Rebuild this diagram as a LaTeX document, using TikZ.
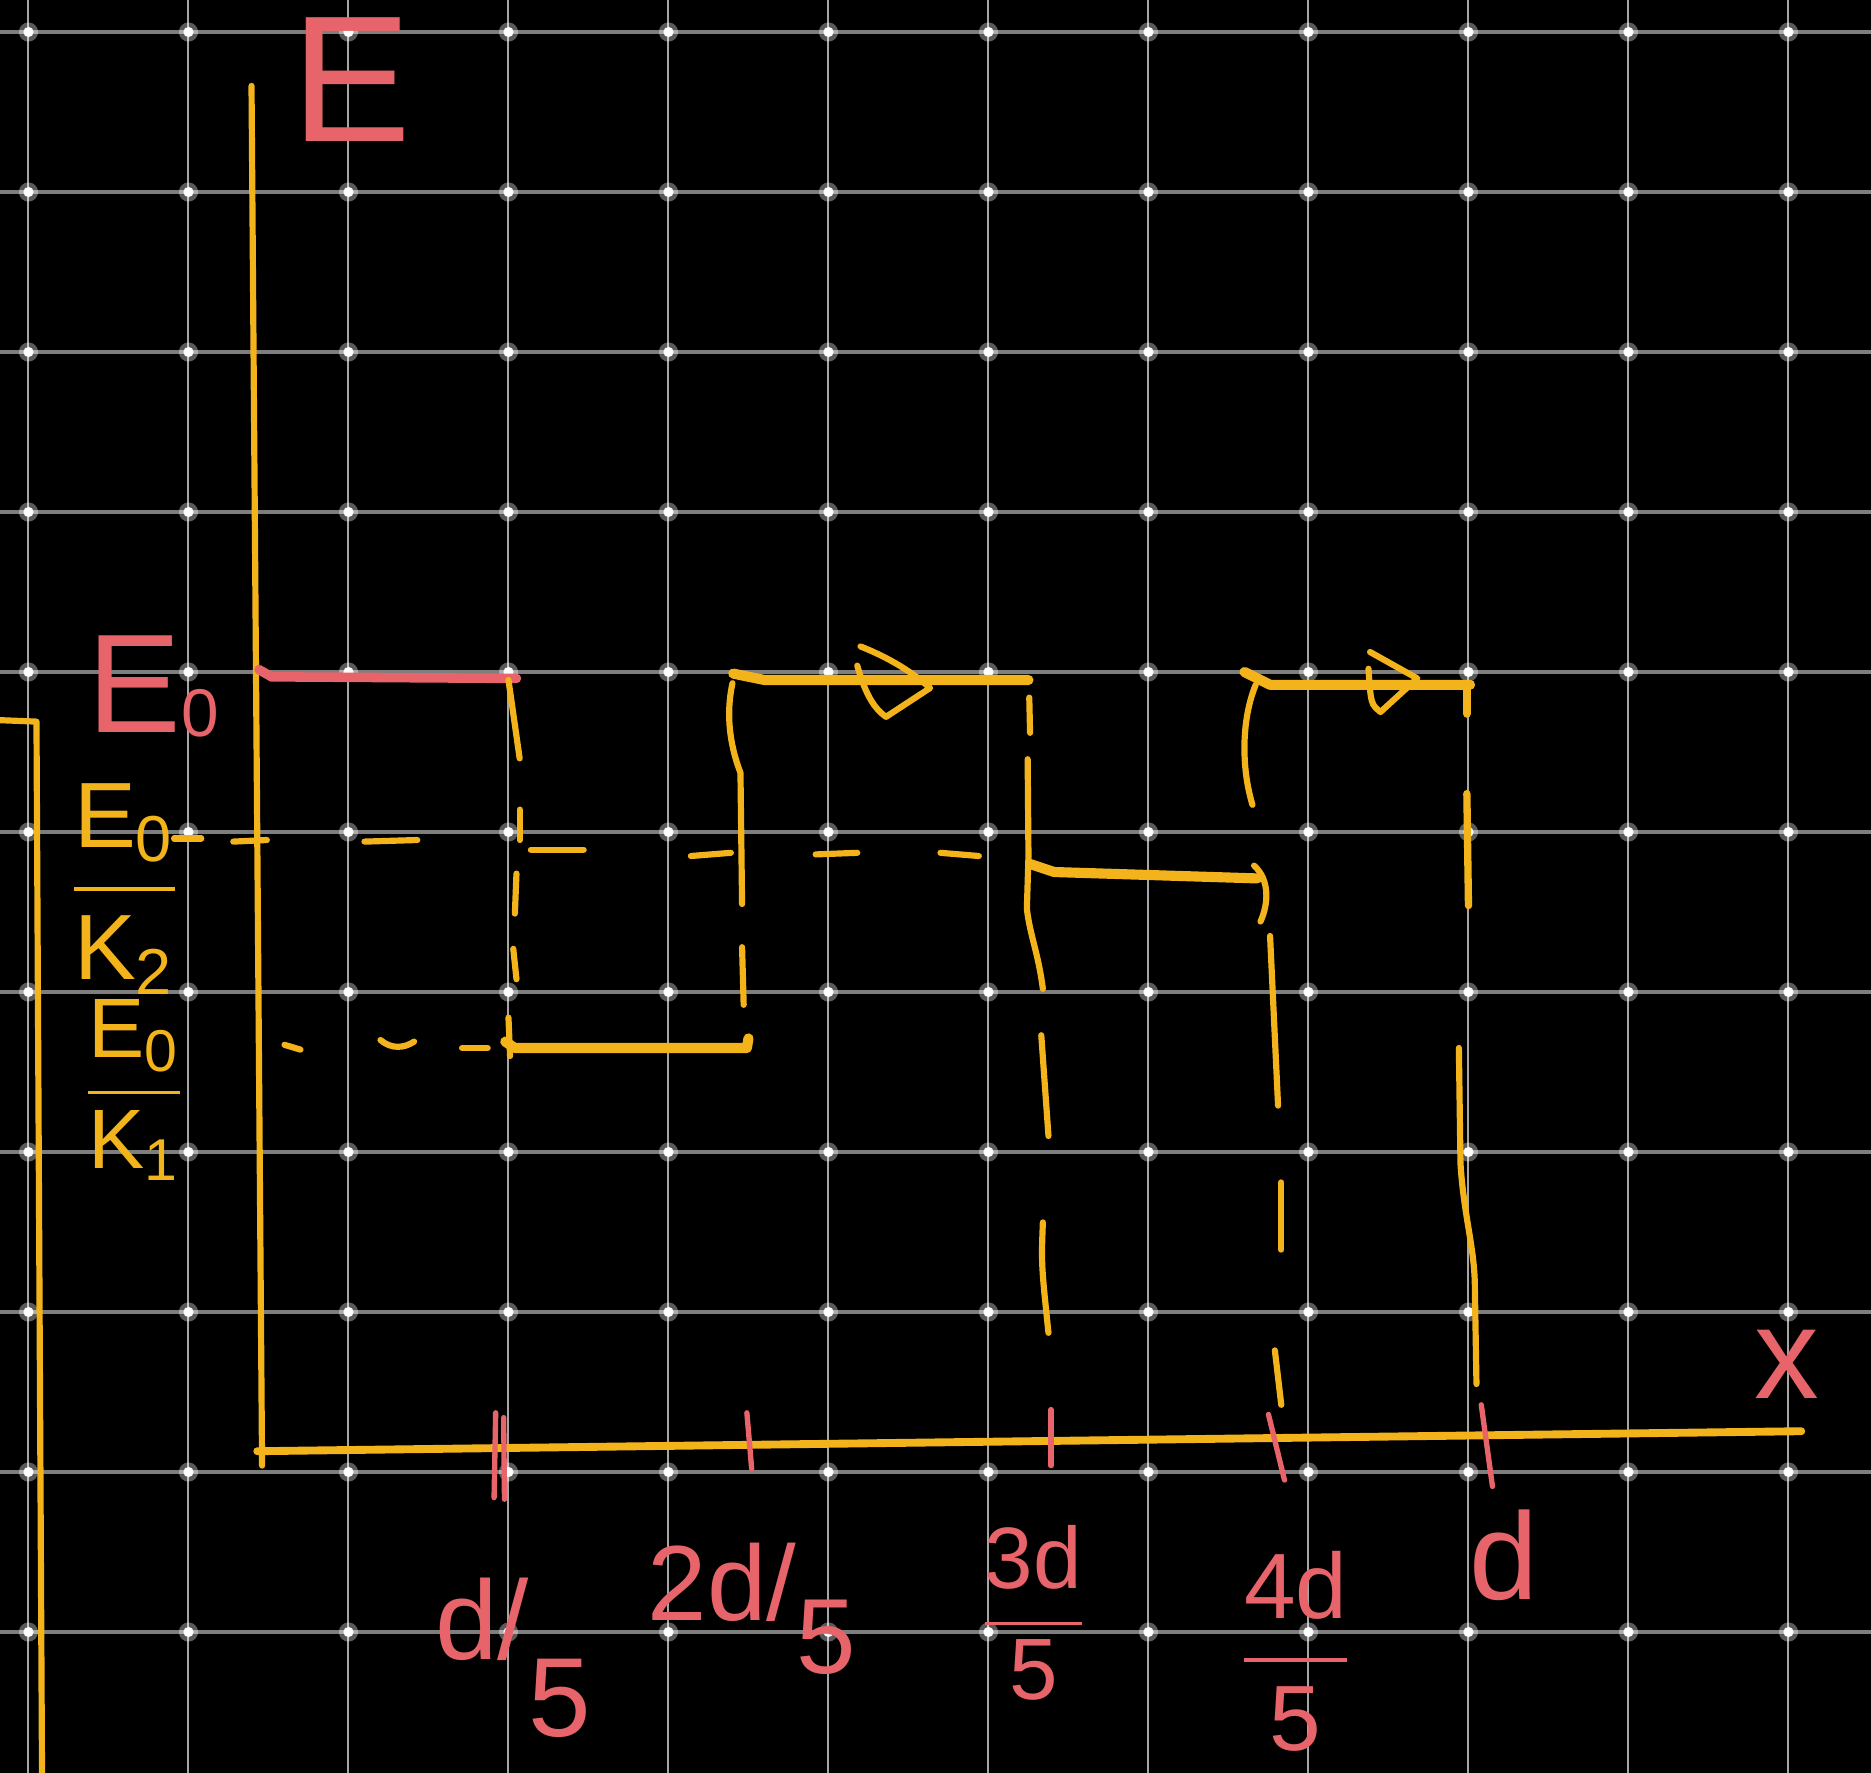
\documentclass[tikz,border=0pt]{standalone}
\usepackage{amsmath}
\usepackage{fontspec}
\setmainfont{Liberation Sans}
\definecolor{yel}{HTML}{F3B41B}
\definecolor{red1}{HTML}{E8646B}
\definecolor{gridh}{HTML}{7E7E7E}
\definecolor{gridv}{HTML}{A6A6A6}
\begin{document}
\begin{tikzpicture}[x=1cm,y=-1cm,
  yl/.style={draw=yel,line width=1.1pt,line cap=round,line join=round},
  ythick/.style={yl,line width=1.8pt},
  rl/.style={draw=red1,line width=0.95pt,line cap=round},
  lbl/.style={inner sep=0pt,outer sep=0pt}]
\fill[black] (-0.178,-0.2) rectangle (11.516,10.881);
\useasboundingbox (-0.178,-0.2) rectangle (11.516,10.881);
% grid
\foreach \i in {0,...,11} \draw[gridv,line width=0.35pt] (\i,-0.2) -- (\i,10.881);
\foreach \j in {0,...,10} \draw[gridh,line width=0.7pt] (-0.178,\j) -- (11.516,\j);
\foreach \i in {0,...,11} {\foreach \j in {0,...,10} {\fill[white,opacity=0.35] (\i,\j) circle (0.06); \fill[white] (\i,\j) circle (0.032);}}
% axes
\draw[yl] (1.394,0.337) -- (1.46,8.96);
\draw[yl,line width=1.4pt] (1.43,8.87) -- (11.08,8.745);
% left long line
\draw[yl] (-0.2,4.30) -- (0.05,4.31) -- (0.085,10.95);
% red E0 line
\draw[draw=red1,line width=1.7pt,line cap=round] (1.44,3.985) -- (1.52,4.03) -- (3.05,4.04);
% dashed vertical at d/5
\draw[yl] (3.0,4.05) -- (3.07,4.54);
\draw[yl] (3.07,4.86) -- (3.07,5.05);
\draw[yl] (3.05,5.26) -- (3.04,5.51);
\draw[yl] (3.03,5.73) -- (3.05,5.92);
\draw[yl] (3.0,6.16) -- (3.01,6.40);
% upper dashed level
\foreach \a/\b/\c/\d in {0.91/5.04/1.08/5.04, 1.28/5.06/1.49/5.05, 2.10/5.06/2.43/5.05, 3.14/5.11/3.47/5.11, 4.14/5.15/4.39/5.13, 4.92/5.14/5.18/5.13, 5.70/5.13/5.94/5.15} \draw[yl] (\a,\b) -- (\c,\d);
% lower dashed level
\draw[yl] (1.60,6.33) -- (1.70,6.36);
\draw[yl] (2.20,6.30) .. controls (2.27,6.36) and (2.35,6.35) .. (2.41,6.31);
\draw[yl] (2.71,6.35) -- (2.87,6.35);
% bottom of first well
\draw[ythick] (2.98,6.31) -- (3.04,6.35) -- (4.49,6.35) -- (4.50,6.29);
% left wall barrier 1
\draw[yl] (4.40,4.07) .. controls (4.35,4.3) and (4.40,4.5) .. (4.45,4.63) -- (4.46,5.45);
\draw[yl] (4.46,5.72) -- (4.47,6.08);
% top barrier 1
\draw[ythick] (4.405,4.01) -- (4.6,4.05) -- (6.25,4.05);
% arrow 1
\draw[yl] (5.20,3.84) .. controls (5.35,3.9) and (5.5,3.98) .. (5.635,4.10) -- (5.36,4.28) .. controls (5.27,4.22) and (5.22,4.1) .. (5.18,3.96);
% right wall barrier 1
\draw[yl] (6.255,4.16) -- (6.26,4.38);
\draw[yl] (6.245,4.545) -- (6.25,5.15) -- (6.24,5.48) .. controls (6.26,5.65) and (6.31,5.75) .. (6.34,5.98);
\draw[yl] (6.33,6.27) -- (6.375,6.90);
\draw[yl] (6.34,7.44) .. controls (6.33,7.7) .. (6.375,8.13);
% middle well
\draw[ythick] (6.26,5.20) -- (6.41,5.25) -- (7.68,5.29);
\draw[yl] (7.66,5.21) .. controls (7.76,5.3) and (7.75,5.45) .. (7.70,5.56);
% dashed wall at 4d/5
\draw[yl] (7.76,5.65) -- (7.81,6.71);
\draw[yl] (7.83,7.19) -- (7.83,7.61);
\draw[yl] (7.79,8.24) -- (7.83,8.58);
% top barrier 2
\draw[ythick] (7.60,4.00) -- (7.76,4.08) -- (9.01,4.08);
\draw[yl] (7.67,4.08) .. controls (7.58,4.3) and (7.58,4.6) .. (7.65,4.83);
% arrow 2
\draw[yl] (8.385,3.875) -- (8.68,4.04) -- (8.45,4.25) .. controls (8.39,4.2) .. (8.375,3.98);
% right wall barrier 2
\draw[yl,line width=1.5pt] (8.99,4.08) -- (8.99,4.26);
\draw[yl,line width=1.3pt] (8.99,4.76) -- (9.0,5.46);
\draw[yl] (8.94,6.35) -- (8.95,7.07) .. controls (8.97,7.4) and (9.04,7.6) .. (9.04,7.85) -- (9.05,8.45);
% ticks
\draw[rl] (2.92,8.63) -- (2.91,9.16);
\draw[rl] (2.97,8.66) -- (2.975,9.17);
\draw[rl] (4.49,8.63) -- (4.52,8.98);
\draw[rl] (6.39,8.61) -- (6.39,8.96);
\draw[rl] (7.75,8.64) -- (7.85,9.05);
\draw[rl] (9.08,8.58) -- (9.15,9.09);
% labels
\node[lbl,text=red1,font=\fontsize{32}{36}\selectfont] (labE) at (2.02,0.30) {E};
\node[lbl,text=red1,font=\fontsize{25}{30}\selectfont,anchor=base west] (labEzero) at (0.37,4.375) {E\raisebox{-0.03cm}{\fontsize{12}{14}\selectfont 0}};
\node[lbl,text=yel,font=\fontsize{16.5}{20}\selectfont] (fracA) at (0.6,5.355) {$\dfrac{\text{E}_{\text{0}}}{\text{K}_{\text{2}}}$};
\node[lbl,text=yel,font=\fontsize{15}{18}\selectfont] (fracB) at (0.66,6.615) {$\dfrac{\text{E}_{\text{0}}}{\text{K}_{\text{1}}}$};
\node[lbl,text=red1,font=\fontsize{20}{24}\selectfont,anchor=base] (tA) at (3.03,10.17) {d/\raisebox{-0.48cm}{5}};
\node[lbl,text=red1,font=\fontsize{19}{23}\selectfont,anchor=base] (tB) at (4.52,9.93) {2d/\raisebox{-0.33cm}{5}};
\node[lbl,text=red1,font=\fontsize{15.5}{19}\selectfont] (tC) at (6.28,9.88) {$\dfrac{\text{3d}}{\text{5}}$};
\node[lbl,text=red1,font=\fontsize{16.5}{20}\selectfont] (tD) at (7.92,10.12) {$\dfrac{\text{4d}}{\text{5}}$};
\node[lbl,text=red1,font=\fontsize{22}{26}\selectfont] (tE) at (9.22,9.52) {d};
\node[lbl,text=red1,font=\fontsize{23}{27}\selectfont] (labx) at (10.99,8.33) {x};
\end{tikzpicture}
\end{document}
